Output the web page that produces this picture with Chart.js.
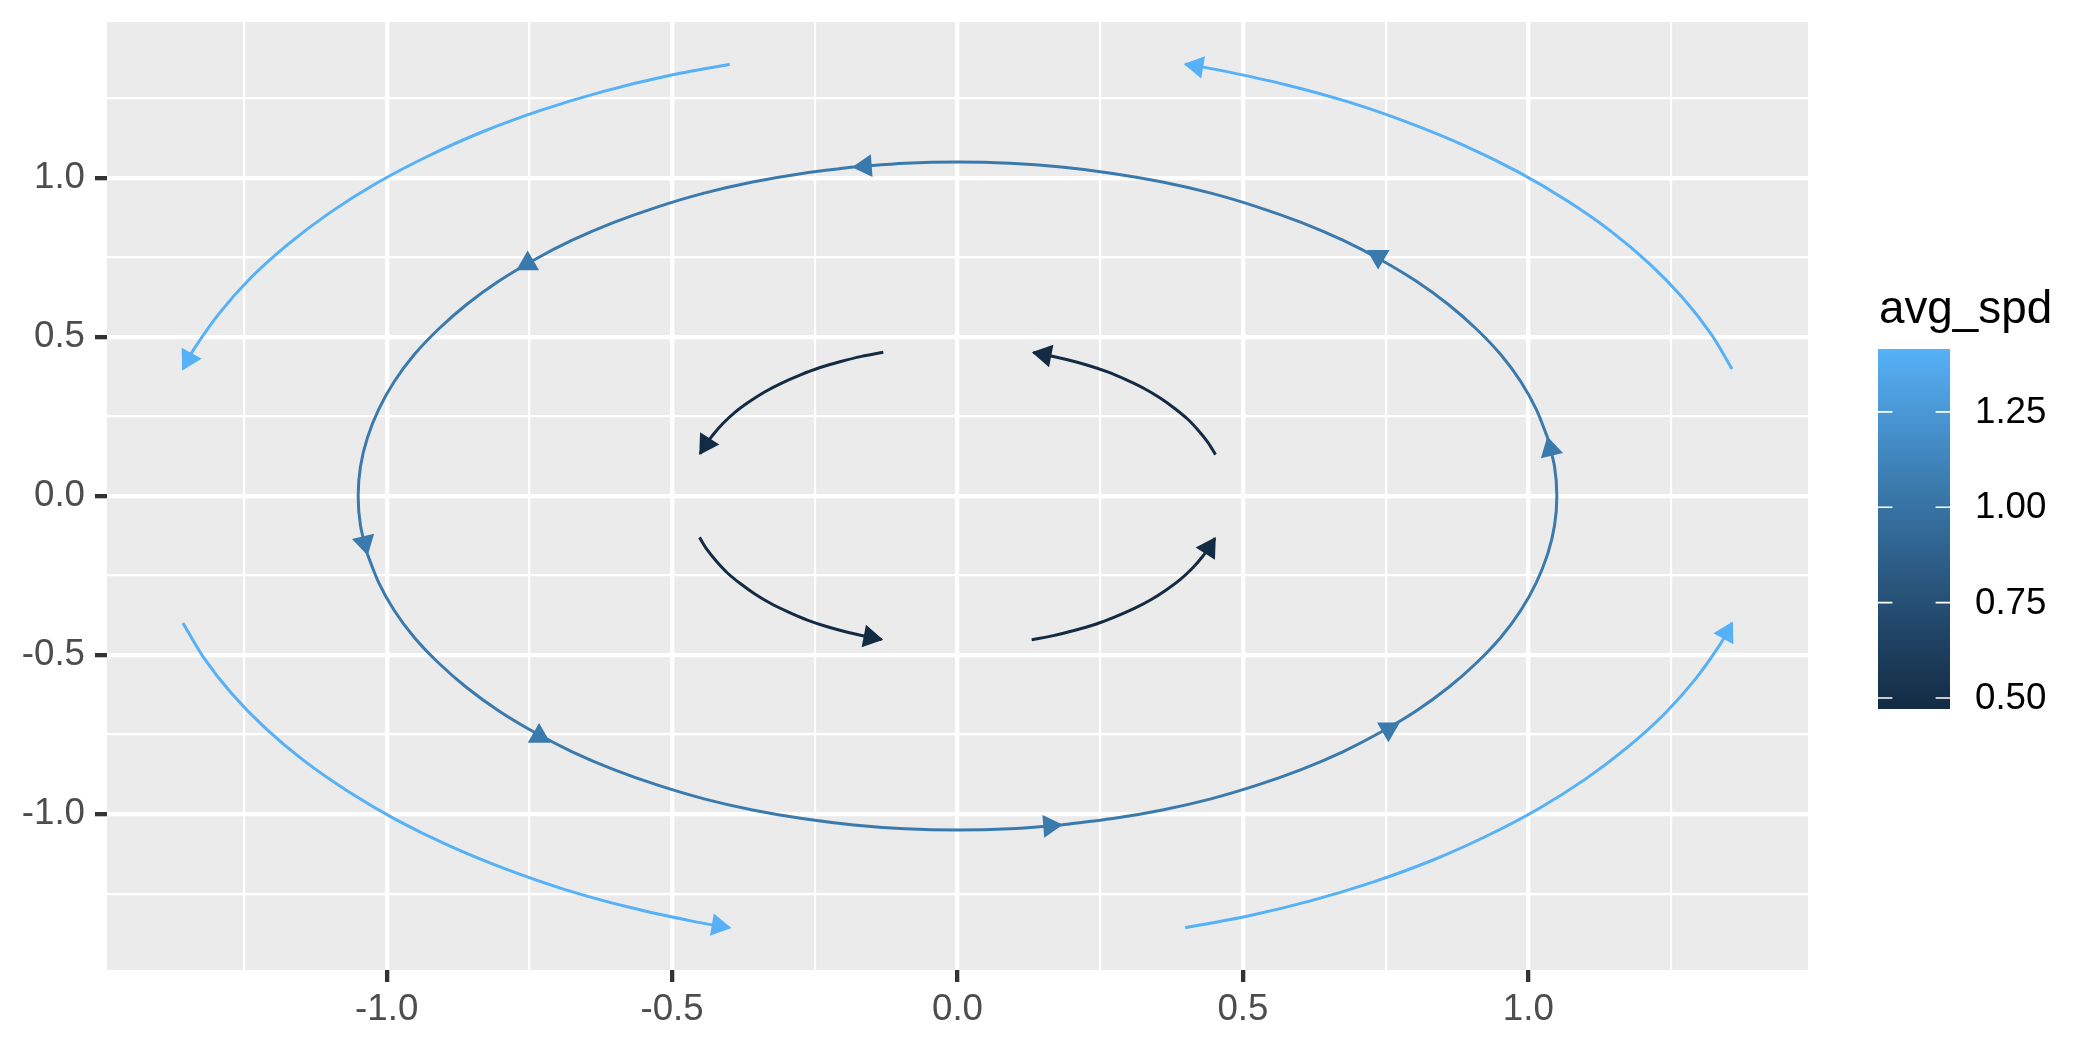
<!DOCTYPE html>
<html>
<head>
<meta charset="utf-8">
<script src="https://cdn.jsdelivr.net/npm/chart.js@4.4.1/dist/chart.umd.min.js"></script>
<style>
  html, body { margin: 0; padding: 0; background: #FFFFFF; }
  canvas { display: block; }
</style>
</head>
<body>
<canvas id="c" width="2100" height="1050"></canvas>
<script>
// ---------------- data ----------------
const axisMin = -1.49;
const axisMax = 1.49;
const majorTicks = [-1.0, -0.5, 0.0, 0.5, 1.0];
const minorTicks = [-1.25, -0.75, -0.25, 0.25, 0.75, 1.25];

// inner streamlines (avg_spd ~ 0.47)
const innerTR = [[0.452,0.130],[0.439,0.168],[0.422,0.206],[0.403,0.242],[0.380,0.276],[0.355,0.308],[0.327,0.338],[0.296,0.365],[0.263,0.390],[0.228,0.411],[0.191,0.429],[0.153,0.444],[0.133,0.451]];
const innerTL = [[-0.130,0.452],[-0.168,0.439],[-0.206,0.422],[-0.242,0.403],[-0.276,0.380],[-0.308,0.355],[-0.338,0.327],[-0.365,0.296],[-0.390,0.263],[-0.411,0.228],[-0.429,0.191],[-0.444,0.153],[-0.451,0.133]];
const innerBL = [[-0.452,-0.130],[-0.439,-0.168],[-0.422,-0.206],[-0.403,-0.242],[-0.380,-0.276],[-0.355,-0.308],[-0.327,-0.338],[-0.296,-0.365],[-0.263,-0.390],[-0.228,-0.411],[-0.191,-0.429],[-0.153,-0.444],[-0.133,-0.451]];
const innerBR = [[0.130,-0.452],[0.168,-0.439],[0.206,-0.422],[0.242,-0.403],[0.276,-0.380],[0.308,-0.355],[0.338,-0.327],[0.365,-0.296],[0.390,-0.263],[0.411,-0.228],[0.429,-0.191],[0.444,-0.153],[0.451,-0.133]];

// middle ring (avg_spd ~ 1.05), four pieces each ending in an arrow
const ringQ1 = [[1.034,0.182],[1.014,0.272],[0.987,0.359],[0.952,0.444],[0.909,0.525],[0.860,0.602],[0.804,0.675],[0.742,0.742],[0.675,0.804],[0.602,0.860],[0.525,0.909],[0.444,0.952],[0.359,0.987],[0.272,1.014],[0.182,1.034],[0.092,1.046],[0.000,1.050],[-0.092,1.046],[-0.182,1.034]];
const ringQ2 = [[-0.182,1.034],[-0.272,1.014],[-0.359,0.987],[-0.444,0.952],[-0.525,0.909],[-0.602,0.860],[-0.675,0.804],[-0.742,0.742],[-0.804,0.675],[-0.860,0.602],[-0.909,0.525],[-0.952,0.444],[-0.987,0.359],[-1.014,0.272],[-1.034,0.182],[-1.046,0.092],[-1.050,0.000],[-1.046,-0.092],[-1.034,-0.182]];
const ringQ3 = [[-1.034,-0.182],[-1.014,-0.272],[-0.987,-0.359],[-0.952,-0.444],[-0.909,-0.525],[-0.860,-0.602],[-0.804,-0.675],[-0.742,-0.742],[-0.675,-0.804],[-0.602,-0.860],[-0.525,-0.909],[-0.444,-0.952],[-0.359,-0.987],[-0.272,-1.014],[-0.182,-1.034],[-0.092,-1.046],[0.000,-1.050],[0.092,-1.046],[0.182,-1.034]];
const ringQ4 = [[0.182,-1.034],[0.272,-1.014],[0.359,-0.987],[0.444,-0.952],[0.525,-0.909],[0.602,-0.860],[0.675,-0.804],[0.742,-0.742],[0.804,-0.675],[0.860,-0.602],[0.909,-0.525],[0.952,-0.444],[0.987,-0.359],[1.014,-0.272],[1.034,-0.182],[1.046,-0.092],[1.050,0.000],[1.046,0.092],[1.034,0.182]];

// outer streamlines (avg_spd ~ 1.415)
const outerTR = [[1.357,0.399],[1.321,0.507],[1.272,0.620],[1.213,0.729],[1.145,0.832],[1.068,0.928],[0.983,1.018],[0.890,1.100],[0.791,1.173],[0.686,1.238],[0.575,1.293],[0.461,1.338],[0.399,1.357]];
const outerTL = [[-0.399,1.357],[-0.507,1.321],[-0.620,1.272],[-0.729,1.213],[-0.832,1.145],[-0.928,1.068],[-1.018,0.983],[-1.100,0.890],[-1.173,0.791],[-1.238,0.686],[-1.293,0.575],[-1.338,0.461],[-1.357,0.399]];
const outerBL = [[-1.357,-0.399],[-1.321,-0.507],[-1.272,-0.620],[-1.213,-0.729],[-1.145,-0.832],[-1.068,-0.928],[-0.983,-1.018],[-0.890,-1.100],[-0.791,-1.173],[-0.686,-1.238],[-0.575,-1.293],[-0.461,-1.338],[-0.399,-1.357]];
const outerBR = [[0.399,-1.357],[0.507,-1.321],[0.620,-1.272],[0.729,-1.213],[0.832,-1.145],[0.928,-1.068],[1.018,-0.983],[1.100,-0.890],[1.173,-0.791],[1.238,-0.686],[1.293,-0.575],[1.338,-0.461],[1.357,-0.399]];

const streams = [innerTR, innerTL, innerBL, innerBR, ringQ1, ringQ2, ringQ3, ringQ4, outerTR, outerTL, outerBL, outerBR];
const streamSpeed = [0.471, 0.471, 0.471, 0.471, 1.05, 1.05, 1.05, 1.05, 1.415, 1.415, 1.415, 1.415];

// extra arrowheads on the ring (centre position and heading as drawn, degrees clockwise from up)
const ringMarkX = [0.737, -0.753, -0.733, 0.755];
const ringMarkY = [0.753, 0.730, -0.755, -0.733];
const ringMarkHeading = [180, 0, 0, 180];
const ringMarkSpeed = 1.05;

const legendTitle = 'avg_spd';
const legendTicks = [0.50, 0.75, 1.00, 1.25];

// ---------------- colour scale (ggplot default gradient, Lab space) ----------------
const lowHex = '#132B43', highHex = '#56B1F7';
const spdMin = Math.min(...streamSpeed), spdMax = Math.max(...streamSpeed);
function hexToRgb(h){ return [1,3,5].map(i => parseInt(h.substr(i,2),16)); }
function lin(c){ c/=255; return c <= 0.04045 ? c/12.92 : Math.pow((c+0.055)/1.055, 2.4); }
function delin(c){ const v = c <= 0.0031308 ? 12.92*c : 1.055*Math.pow(c,1/2.4)-0.055; return Math.max(0, Math.min(255, Math.round(v*255))); }
const Xn=0.95047, Yn=1.0, Zn=1.08883;
function f(t){ return t > 0.008856 ? Math.cbrt(t) : 7.787*t + 16/116; }
function finv(t){ const t3=t*t*t; return t3 > 0.008856 ? t3 : (t - 16/116)/7.787; }
function rgb2lab(rgb){
  const [r,g,b] = rgb.map(lin);
  const X = 0.4124*r + 0.3576*g + 0.1805*b;
  const Y = 0.2126*r + 0.7152*g + 0.0722*b;
  const Z = 0.0193*r + 0.1192*g + 0.9505*b;
  const fx=f(X/Xn), fy=f(Y/Yn), fz=f(Z/Zn);
  return [116*fy-16, 500*(fx-fy), 200*(fy-fz)];
}
function lab2rgb(lab){
  const [L,a,b] = lab;
  const fy=(L+16)/116, fx=fy+a/500, fz=fy-b/200;
  const X=Xn*finv(fx), Y=Yn*finv(fy), Z=Zn*finv(fz);
  const r = 3.2406*X - 1.5372*Y - 0.4986*Z;
  const g = -0.9689*X + 1.8758*Y + 0.0415*Z;
  const bb = 0.0557*X - 0.2040*Y + 1.0570*Z;
  return [delin(r), delin(g), delin(bb)];
}
const labLow = rgb2lab(hexToRgb(lowHex)), labHigh = rgb2lab(hexToRgb(highHex));
function speedColor(v){
  let t = (v - spdMin)/(spdMax - spdMin); t = Math.max(0, Math.min(1, t));
  const lab = labLow.map((c,i) => c + (labHigh[i]-c)*t);
  const [r,g,b] = lab2rgb(lab);
  return `rgb(${r},${g},${b})`;
}

// ---------------- chart ----------------
const FONT = "'Liberation Sans', Arial, Helvetica, sans-serif";
const isMajor = v => majorTicks.some(m => Math.abs(m - v) < 1e-9);
const allTicks = [...majorTicks, ...minorTicks].sort((a,b)=>a-b);

const datasets = streams.map((s, i) => ({
  data: s.map(p => ({x: p[0], y: p[1]})),
  showLine: true,
  borderColor: speedColor(streamSpeed[i]),
  backgroundColor: speedColor(streamSpeed[i]),
  borderWidth: 3,
  pointRadius: 0,
  pointHoverRadius: 0,
  tension: 0.3,
  fill: false,
  borderCapStyle: 'butt',
  borderJoinStyle: 'round'
}));

function drawHead(ctx, tipX, tipY, ux, uy, color){
  const L = 20, h = L*Math.sqrt(3)/2;
  const bx = tipX - ux*h, by = tipY - uy*h;
  const px = -uy, py = ux;
  ctx.beginPath();
  ctx.moveTo(tipX, tipY);
  ctx.lineTo(bx + px*L/2, by + py*L/2);
  ctx.lineTo(bx - px*L/2, by - py*L/2);
  ctx.closePath();
  ctx.fillStyle = color; ctx.strokeStyle = color; ctx.lineWidth = 1.6; ctx.lineJoin = 'miter';
  ctx.fill(); ctx.stroke();
}

const panelPlugin = {
  id: 'panel',
  beforeDraw(chart){
    const {ctx, chartArea: a} = chart;
    ctx.save();
    ctx.fillStyle = '#FFFFFF';
    ctx.fillRect(0, 0, chart.width, chart.height);
    ctx.fillStyle = '#EBEBEB';
    ctx.fillRect(a.left, a.top, a.right - a.left, a.bottom - a.top);
    ctx.restore();
  },
  afterDatasetsDraw(chart){
    const ctx = chart.ctx;
    const xs = chart.scales.x, ys = chart.scales.y;
    ctx.save();
    // arrowheads at the end of each streamline
    streams.forEach((s, i) => {
      const pts = chart.getDatasetMeta(i).data;
      const last = pts[pts.length-1], prev = pts[pts.length-2];
      const dx = last.x - prev.x, dy = last.y - prev.y;
      const n = Math.hypot(dx,dy);
      drawHead(ctx, last.x, last.y, dx/n, dy/n, speedColor(streamSpeed[i]));
    });
    // extra ring arrowheads
    ringMarkX.forEach((mx, k) => {
      const cx = xs.getPixelForValue(mx), cy = ys.getPixelForValue(ringMarkY[k]);
      const r = ringMarkHeading[k]*Math.PI/180;
      const ux = Math.sin(r), uy = -Math.cos(r);
      const h = 20*Math.sqrt(3)/2;
      drawHead(ctx, cx + ux*h*2/3, cy + uy*h*2/3, ux, uy, speedColor(ringMarkSpeed));
    });
    ctx.restore();
  },
  afterDraw(chart){
    // colourbar legend
    const ctx = chart.ctx;
    const barL = 1878, barR = 1950, barT = 349, barB = 709;
    ctx.save();
    ctx.fillStyle = '#000000';
    ctx.font = `45.8px ${FONT}`;
    ctx.textAlign = 'left'; ctx.textBaseline = 'alphabetic';
    ctx.fillText(legendTitle, 1879, 323);
    const grad = ctx.createLinearGradient(0, barB, 0, barT);
    for (let k = 0; k <= 30; k++) {
      grad.addColorStop(k/30, speedColor(spdMin + (spdMax-spdMin)*k/30));
    }
    ctx.fillStyle = grad;
    ctx.fillRect(barL, barT, barR-barL, barB-barT);
    const tickLen = (barR - barL)/5;
    ctx.strokeStyle = '#FFFFFF'; ctx.lineWidth = 1.6;
    ctx.font = `36.7px ${FONT}`;
    ctx.textBaseline = 'middle';
    legendTicks.forEach(v => {
      const y = barB - (v - spdMin)/(spdMax - spdMin)*(barB - barT);
      ctx.beginPath();
      ctx.moveTo(barL, y); ctx.lineTo(barL + tickLen, y);
      ctx.moveTo(barR - tickLen, y); ctx.lineTo(barR, y);
      ctx.stroke();
      ctx.fillStyle = '#000000';
      ctx.fillText(v.toFixed(2), 1975, y + 1);
    });
    ctx.restore();
  }
};

function axisCfg(isX){
  return {
    type: 'linear',
    min: axisMin, max: axisMax,
    afterBuildTicks: scale => { scale.ticks = allTicks.map(v => ({value: v})); },
    afterFit: scale => {
      if (isX) { scale.height = 80; scale.paddingLeft = 0; scale.paddingRight = 0; }
      else { scale.width = 107; scale.paddingTop = 0; scale.paddingBottom = 0; }
    },
    border: { display: false },
    grid: {
      color: '#FFFFFF',
      lineWidth: c => (c.tick && isMajor(c.tick.value)) ? 4.3 : 2.2,
      tickColor: c => (c.tick && isMajor(c.tick.value)) ? '#333333' : 'rgba(0,0,0,0)',
      tickWidth: 4.3,
      tickLength: 12,
      drawTicks: true,
      offset: false
    },
    ticks: {
      autoSkip: false,
      maxRotation: 0,
      minRotation: 0,
      padding: isX ? 6 : 10,
      color: '#4D4D4D',
      font: { family: FONT, size: 36.7 },
      callback: v => isMajor(v) ? Number(v).toFixed(1) : ''
    }
  };
}

new Chart(document.getElementById('c'), {
  type: 'scatter',
  data: { datasets },
  options: {
    responsive: false,
    devicePixelRatio: 1,
    animation: false,
    layout: { padding: { top: 22, right: 292, left: 0, bottom: 0 } },
    plugins: { legend: { display: false }, tooltip: { enabled: false } },
    scales: { x: axisCfg(true), y: axisCfg(false) }
  },
  plugins: [panelPlugin]
});
</script>
</body>
</html>
